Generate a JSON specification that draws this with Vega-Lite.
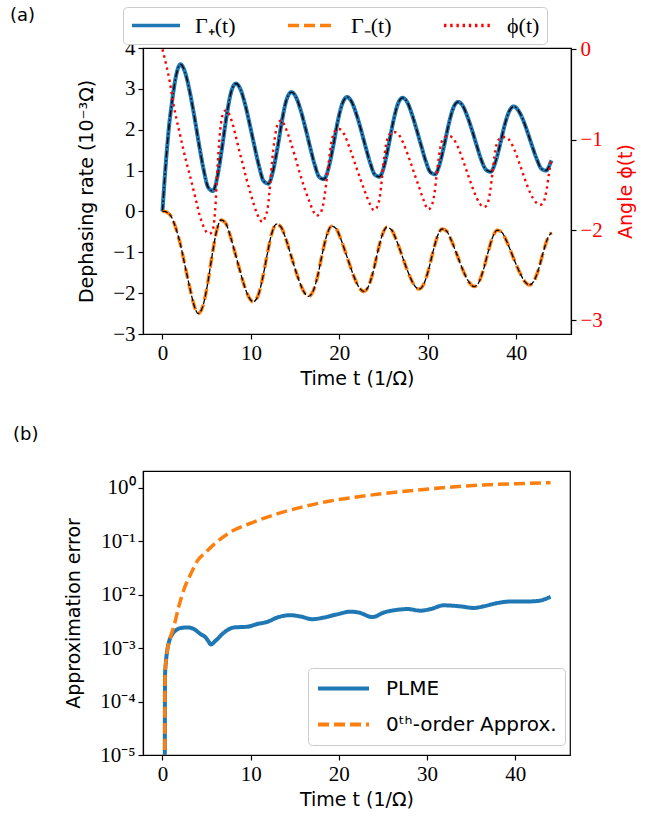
{
  "$schema": "https://vega.github.io/schema/vega-lite/v6.json",
  "padding": {"left": 9, "top": 5, "right": 5, "bottom": 5},
  "background": "white",
  "config": {
    "view": {"stroke": "black", "strokeWidth": 1.2},
    "axis": {"domainColor": "black", "domainWidth": 1.2, "tickColor": "black", "tickSize": 5, "tickWidth": 1.2, "labelColor": "black", "labelFont": "Liberation Serif", "labelFontSize": 21, "titleFont": "DejaVu Sans", "titleFontSize": 19, "titleFontWeight": "normal", "titleColor": "black", "grid": false, "labelFlush": false, "labelOverlap": false},
    "title": {"font": "DejaVu Sans", "fontSize": 18, "fontWeight": "normal", "color": "black"}
  },
  "resolve": {"scale": {"color": "independent", "strokeDash": "independent"}, "legend": {"color": "independent", "strokeDash": "independent"}},
  "datasets": {
    "gp": [
      {"t": 0, "v": 0}, {"t": 0.25, "v": 0.8}, {"t": 0.5, "v": 1.5}, {"t": 0.75, "v": 2.1}, {"t": 1.0, "v": 2.55}, {"t": 1.25, "v": 2.95}, {"t": 1.5, "v": 3.28}, {"t": 1.75, "v": 3.5},
      {"t": 2.03, "v": 3.6}, {"t": 2.55, "v": 3.41}, {"t": 3.08, "v": 2.94}, {"t": 3.6, "v": 2.33}, {"t": 4.12, "v": 1.66}, {"t": 4.65, "v": 1.03}, {"t": 5.17, "v": 0.59}, {"t": 5.7, "v": 0.5}, {"t": 6.22, "v": 0.86}, {"t": 6.74, "v": 1.56}, {"t": 7.27, "v": 2.36}, {"t": 7.79, "v": 2.94},
      {"t": 8.31, "v": 3.13}, {"t": 8.84, "v": 2.98}, {"t": 9.36, "v": 2.61}, {"t": 9.88, "v": 2.12}, {"t": 10.41, "v": 1.59}, {"t": 10.93, "v": 1.1}, {"t": 11.45, "v": 0.74}, {"t": 11.98, "v": 0.68}, {"t": 12.5, "v": 0.99}, {"t": 13.03, "v": 1.58}, {"t": 13.55, "v": 2.26}, {"t": 14.07, "v": 2.76},
      {"t": 14.6, "v": 2.92}, {"t": 15.12, "v": 2.79}, {"t": 15.64, "v": 2.47}, {"t": 16.17, "v": 2.04}, {"t": 16.69, "v": 1.58}, {"t": 17.21, "v": 1.15}, {"t": 17.74, "v": 0.84}, {"t": 18.26, "v": 0.79}, {"t": 18.78, "v": 1.06}, {"t": 19.31, "v": 1.6}, {"t": 19.83, "v": 2.21}, {"t": 20.36, "v": 2.65},
      {"t": 20.88, "v": 2.8}, {"t": 21.4, "v": 2.68}, {"t": 21.93, "v": 2.38}, {"t": 22.45, "v": 2.0}, {"t": 22.97, "v": 1.58}, {"t": 23.5, "v": 1.18}, {"t": 24.02, "v": 0.9}, {"t": 24.54, "v": 0.85}, {"t": 25.07, "v": 1.11}, {"t": 25.59, "v": 1.63}, {"t": 26.11, "v": 2.21}, {"t": 26.64, "v": 2.64},
      {"t": 27.16, "v": 2.78}, {"t": 27.69, "v": 2.67}, {"t": 28.21, "v": 2.38}, {"t": 28.73, "v": 2.01}, {"t": 29.26, "v": 1.61}, {"t": 29.78, "v": 1.23}, {"t": 30.3, "v": 0.96}, {"t": 30.83, "v": 0.91}, {"t": 31.35, "v": 1.16}, {"t": 31.87, "v": 1.63}, {"t": 32.4, "v": 2.16}, {"t": 32.92, "v": 2.55},
      {"t": 33.45, "v": 2.68}, {"t": 33.97, "v": 2.58}, {"t": 34.49, "v": 2.32}, {"t": 35.02, "v": 1.98}, {"t": 35.54, "v": 1.61}, {"t": 36.06, "v": 1.26}, {"t": 36.59, "v": 1.02}, {"t": 37.11, "v": 0.97}, {"t": 37.63, "v": 1.19}, {"t": 38.16, "v": 1.62}, {"t": 38.68, "v": 2.1}, {"t": 39.21, "v": 2.45},
      {"t": 39.73, "v": 2.57}, {"t": 40.25, "v": 2.47}, {"t": 40.78, "v": 2.24}, {"t": 41.3, "v": 1.93}, {"t": 41.82, "v": 1.59}, {"t": 42.35, "v": 1.27}, {"t": 42.87, "v": 1.04}, {"t": 43.39, "v": 1.0}, {"t": 43.92, "v": 1.21}, {"t": 44.0, "v": 1.25}
    ],
    "gm": [
      {"t": 0, "v": 0}, {"t": 0.25, "v": 0}, {"t": 0.5, "v": -0.02}, {"t": 0.75, "v": -0.06}, {"t": 1.0, "v": -0.13}, {"t": 1.25, "v": -0.25}, {"t": 1.5, "v": -0.4}, {"t": 1.75, "v": -0.58}, {"t": 2.0, "v": -0.78}, {"t": 2.25, "v": -1.02}, {"t": 2.5, "v": -1.28}, {"t": 2.75, "v": -1.53}, {"t": 3.0, "v": -1.78}, {"t": 3.25, "v": -2.02}, {"t": 3.5, "v": -2.24}, {"t": 3.75, "v": -2.41},
      {"t": 4.03, "v": -2.5}, {"t": 4.55, "v": -2.33}, {"t": 5.07, "v": -1.82}, {"t": 5.59, "v": -1.11}, {"t": 6.11, "v": -0.49}, {"t": 6.63, "v": -0.21}, {"t": 7.15, "v": -0.29}, {"t": 7.67, "v": -0.6}, {"t": 8.19, "v": -1.0}, {"t": 8.71, "v": -1.41}, {"t": 9.23, "v": -1.8}, {"t": 9.75, "v": -2.09},
      {"t": 10.27, "v": -2.21}, {"t": 10.8, "v": -2.07}, {"t": 11.32, "v": -1.64}, {"t": 11.84, "v": -1.06}, {"t": 12.36, "v": -0.54}, {"t": 12.88, "v": -0.31}, {"t": 13.4, "v": -0.38}, {"t": 13.92, "v": -0.65}, {"t": 14.44, "v": -1.01}, {"t": 14.96, "v": -1.38}, {"t": 15.48, "v": -1.71}, {"t": 16.0, "v": -1.97},
      {"t": 16.52, "v": -2.08}, {"t": 17.04, "v": -1.95}, {"t": 17.56, "v": -1.57}, {"t": 18.08, "v": -1.03}, {"t": 18.6, "v": -0.57}, {"t": 19.12, "v": -0.36}, {"t": 19.64, "v": -0.42}, {"t": 20.16, "v": -0.67}, {"t": 20.68, "v": -0.99}, {"t": 21.2, "v": -1.32}, {"t": 21.72, "v": -1.63}, {"t": 22.24, "v": -1.86},
      {"t": 22.76, "v": -1.96}, {"t": 23.28, "v": -1.84}, {"t": 23.81, "v": -1.49}, {"t": 24.33, "v": -1.0}, {"t": 24.85, "v": -0.58}, {"t": 25.37, "v": -0.39}, {"t": 25.89, "v": -0.45}, {"t": 26.41, "v": -0.68}, {"t": 26.93, "v": -0.98}, {"t": 27.45, "v": -1.3}, {"t": 27.97, "v": -1.59}, {"t": 28.49, "v": -1.81},
      {"t": 29.01, "v": -1.9}, {"t": 29.53, "v": -1.79}, {"t": 30.05, "v": -1.46}, {"t": 30.57, "v": -1.01}, {"t": 31.09, "v": -0.61}, {"t": 31.61, "v": -0.43}, {"t": 32.13, "v": -0.48}, {"t": 32.65, "v": -0.7}, {"t": 33.17, "v": -0.98}, {"t": 33.69, "v": -1.28}, {"t": 34.21, "v": -1.55}, {"t": 34.73, "v": -1.75},
      {"t": 35.25, "v": -1.84}, {"t": 35.77, "v": -1.74}, {"t": 36.29, "v": -1.43}, {"t": 36.82, "v": -1.0}, {"t": 37.34, "v": -0.63}, {"t": 37.86, "v": -0.46}, {"t": 38.38, "v": -0.51}, {"t": 38.9, "v": -0.72}, {"t": 39.42, "v": -0.99}, {"t": 39.94, "v": -1.27}, {"t": 40.46, "v": -1.52}, {"t": 40.98, "v": -1.72},
      {"t": 41.5, "v": -1.8}, {"t": 42.02, "v": -1.7}, {"t": 42.54, "v": -1.41}, {"t": 43.06, "v": -1.0}, {"t": 43.58, "v": -0.65}, {"t": 44.0, "v": -0.52}
    ],
    "phi": [
      {"t": 0, "p": 0}, {"t": 0.45, "p": -0.18}, {"t": 0.83, "p": -0.36}, {"t": 1.2, "p": -0.58}, {"t": 1.58, "p": -0.77}, {"t": 1.96, "p": -0.93}, {"t": 2.34, "p": -1.1}, {"t": 2.71, "p": -1.25}, {"t": 3.09, "p": -1.39}, {"t": 3.47, "p": -1.54}, {"t": 3.84, "p": -1.69}, {"t": 4.22, "p": -1.84}, {"t": 4.6, "p": -1.95}, {"t": 4.97, "p": -2.02}, {"t": 5.3, "p": -2.04}, {"t": 5.6, "p": -2.02},
      {"t": 5.85, "p": -1.9}, {"t": 6.02, "p": -1.69}, {"t": 6.18, "p": -1.39}, {"t": 6.33, "p": -1.14}, {"t": 6.55, "p": -0.88}, {"t": 6.86, "p": -0.71}, {"t": 7.16, "p": -0.675}, {"t": 7.6, "p": -0.73}, {"t": 7.98, "p": -0.84}, {"t": 8.36, "p": -0.99}, {"t": 8.73, "p": -1.14}, {"t": 9.11, "p": -1.28}, {"t": 9.49, "p": -1.43}, {"t": 9.87, "p": -1.56}, {"t": 10.25, "p": -1.69}, {"t": 10.62, "p": -1.8}, {"t": 11.0, "p": -1.88}, {"t": 11.3, "p": -1.91},
      {"t": 11.6, "p": -1.86}, {"t": 11.94, "p": -1.73}, {"t": 12.2, "p": -1.47}, {"t": 12.43, "p": -1.21}, {"t": 12.69, "p": -0.99}, {"t": 13.07, "p": -0.82}, {"t": 13.45, "p": -0.785}, {"t": 13.8, "p": -0.84}, {"t": 14.38, "p": -0.99}, {"t": 14.95, "p": -1.17}, {"t": 15.5, "p": -1.36}, {"t": 16.08, "p": -1.54}, {"t": 16.64, "p": -1.69}, {"t": 17.0, "p": -1.78}, {"t": 17.4, "p": -1.84},
      {"t": 17.8, "p": -1.82}, {"t": 18.15, "p": -1.73}, {"t": 18.5, "p": -1.5}, {"t": 18.8, "p": -1.25}, {"t": 19.1, "p": -1.03}, {"t": 19.47, "p": -0.91}, {"t": 19.85, "p": -0.88}, {"t": 20.2, "p": -0.89}, {"t": 20.6, "p": -0.95}, {"t": 21.2, "p": -1.1}, {"t": 21.8, "p": -1.27}, {"t": 22.4, "p": -1.44}, {"t": 23.0, "p": -1.6}, {"t": 23.5, "p": -1.72}, {"t": 23.9, "p": -1.78},
      {"t": 24.25, "p": -1.75}, {"t": 24.6, "p": -1.62}, {"t": 24.85, "p": -1.4}, {"t": 25.1, "p": -1.18}, {"t": 25.4, "p": -1.0}, {"t": 25.8, "p": -0.93}, {"t": 26.2, "p": -0.915}, {"t": 26.6, "p": -0.93}, {"t": 27.2, "p": -1.03}, {"t": 27.8, "p": -1.18}, {"t": 28.4, "p": -1.35}, {"t": 29.0, "p": -1.52}, {"t": 29.5, "p": -1.66}, {"t": 30.05, "p": -1.77},
      {"t": 30.4, "p": -1.74}, {"t": 30.75, "p": -1.6}, {"t": 31.0, "p": -1.4}, {"t": 31.25, "p": -1.2}, {"t": 31.55, "p": -1.03}, {"t": 31.95, "p": -0.97}, {"t": 32.45, "p": -0.96}, {"t": 32.9, "p": -0.99}, {"t": 33.5, "p": -1.1}, {"t": 34.1, "p": -1.26}, {"t": 34.7, "p": -1.43}, {"t": 35.3, "p": -1.59}, {"t": 35.9, "p": -1.71}, {"t": 36.35, "p": -1.745},
      {"t": 36.7, "p": -1.72}, {"t": 37.05, "p": -1.58}, {"t": 37.3, "p": -1.38}, {"t": 37.55, "p": -1.18}, {"t": 37.85, "p": -1.03}, {"t": 38.25, "p": -0.98}, {"t": 38.75, "p": -0.97}, {"t": 39.2, "p": -1.0}, {"t": 39.8, "p": -1.11}, {"t": 40.4, "p": -1.27}, {"t": 41.0, "p": -1.44}, {"t": 41.6, "p": -1.59}, {"t": 42.2, "p": -1.69}, {"t": 42.75, "p": -1.72},
      {"t": 43.1, "p": -1.69}, {"t": 43.45, "p": -1.55}, {"t": 43.7, "p": -1.38}, {"t": 44.0, "p": -1.2}
    ],
    "plme": [
      {"t": 0.25, "e": 1e-7}, {"t": 0.3, "e": 0.000316}, {"t": 0.4, "e": 0.00056}, {"t": 0.57, "e": 0.00095}, {"t": 0.8, "e": 0.0014}, {"t": 1.1, "e": 0.0018}, {"t": 1.7, "e": 0.00224}, {"t": 2.3, "e": 0.0024}, {"t": 2.9, "e": 0.00243}, {"t": 3.5, "e": 0.0023}, {"t": 4.34, "e": 0.00182}, {"t": 4.9, "e": 0.00158}, {"t": 5.2, "e": 0.00135}, {"t": 5.5, "e": 0.00117}, {"t": 6.04, "e": 0.00138}, {"t": 6.98, "e": 0.00195}, {"t": 8.11, "e": 0.00243}, {"t": 9.63, "e": 0.00251}, {"t": 10.76, "e": 0.00282}, {"t": 11.89, "e": 0.00309}, {"t": 13.0, "e": 0.00372}, {"t": 14.5, "e": 0.00412}, {"t": 15.66, "e": 0.00389}, {"t": 17.0, "e": 0.00347}, {"t": 18.3, "e": 0.00372}, {"t": 19.8, "e": 0.00427}, {"t": 21.3, "e": 0.00479}, {"t": 22.3, "e": 0.0046}, {"t": 23.8, "e": 0.0038}, {"t": 25.1, "e": 0.00462}, {"t": 26.6, "e": 0.00519}, {"t": 27.8, "e": 0.00537}, {"t": 29.25, "e": 0.005}, {"t": 30.4, "e": 0.00537}, {"t": 31.9, "e": 0.0063}, {"t": 33.75, "e": 0.00603}, {"t": 35.3, "e": 0.00562}, {"t": 36.4, "e": 0.00603}, {"t": 37.9, "e": 0.00692}, {"t": 39.4, "e": 0.00741}, {"t": 40.9, "e": 0.00741}, {"t": 42.5, "e": 0.00759}, {"t": 44.0, "e": 0.0091}
    ],
    "zero": [
      {"t": 0.25, "e": 1e-7}, {"t": 0.3, "e": 0.000316}, {"t": 0.4, "e": 0.00056}, {"t": 0.57, "e": 0.00095}, {"t": 0.9, "e": 0.00158}, {"t": 1.32, "e": 0.00263}, {"t": 1.88, "e": 0.00617}, {"t": 2.45, "e": 0.0126}, {"t": 3.2, "e": 0.024}, {"t": 3.96, "e": 0.0427}, {"t": 4.9, "e": 0.0617}, {"t": 5.85, "e": 0.0871}, {"t": 7.73, "e": 0.148}, {"t": 10.4, "e": 0.229}, {"t": 13.0, "e": 0.324}, {"t": 15.66, "e": 0.427}, {"t": 18.7, "e": 0.55}, {"t": 21.3, "e": 0.646}, {"t": 25.1, "e": 0.776}, {"t": 28.9, "e": 0.902}, {"t": 32.6, "e": 1.023}, {"t": 36.4, "e": 1.122}, {"t": 40.2, "e": 1.189}, {"t": 44.0, "e": 1.239}
    ]
  },
  "spacing": 36,
  "vconcat": [
    {
      "width": 428,
      "height": 286,
      "title": {"text": "(a)", "anchor": "start", "frame": "group", "dx": -133, "dy": 22},
      "layer": [
        {
          "layer": [
            {
              "data": {"name": "gp"},
              "mark": {"type": "line", "interpolate": "monotone", "strokeWidth": 4, "clip": true},
              "encoding": {
                "x": {"field": "t", "type": "quantitative", "scale": {"domain": [-2.2, 46.2], "nice": false, "zero": false}, "axis": {"values": [0, 10, 20, 30, 40], "title": "Time t (1/Ω)", "labelPadding": 3, "titlePadding": 6}},
                "y": {"field": "v", "type": "quantitative", "scale": {"domain": [-3, 4], "nice": false, "zero": false}, "axis": {"values": [-3, -2, -1, 0, 1, 2, 3, 4], "title": "Dephasing rate (10⁻³Ω)", "labelPadding": 3, "titlePadding": 16}},
                "color": {"datum": "Γ₊(t)", "type": "nominal", "scale": {"domain": ["Γ₊(t)", "Γ₋(t)", "ϕ(t)"], "range": ["#1f77b4", "#ff7f0e", "#ff0000"]},
                  "legend": {"orient": "none", "legendX": -20, "legendY": -41, "direction": "horizontal", "title": null, "fillColor": "white", "strokeColor": "#cccccc", "cornerRadius": 4, "padding": 7, "symbolType": "stroke", "symbolSize": 2300, "symbolStrokeWidth": 3.5, "clipHeight": 23, "labelFont": "Liberation Serif", "labelFontSize": 22, "labelOffset": 13, "columnPadding": 50, "labelLimit": 200}},
                "strokeDash": {"datum": "Γ₊(t)", "type": "nominal", "scale": {"domain": ["Γ₊(t)", "Γ₋(t)", "ϕ(t)"], "range": [[1, 0], [11, 5], [2.4, 3.8]]}}
              }
            },
            {
              "data": {"name": "gp"},
              "mark": {"type": "line", "interpolate": "monotone", "strokeWidth": 1.4, "color": "black", "strokeDash": [7, 2.5, 1.5, 2.5], "clip": true},
              "encoding": {"x": {"field": "t", "type": "quantitative"}, "y": {"field": "v", "type": "quantitative"}}
            },
            {
              "data": {"name": "gm"},
              "mark": {"type": "line", "interpolate": "monotone", "strokeWidth": 3.5, "clip": true},
              "encoding": {
                "x": {"field": "t", "type": "quantitative"},
                "y": {"field": "v", "type": "quantitative"},
                "color": {"datum": "Γ₋(t)", "type": "nominal"},
                "strokeDash": {"datum": "Γ₋(t)", "type": "nominal"}
              }
            },
            {
              "data": {"name": "gm"},
              "mark": {"type": "line", "interpolate": "monotone", "strokeWidth": 1.3, "color": "black", "strokeDash": [5.5, 2.2], "clip": true},
              "encoding": {"x": {"field": "t", "type": "quantitative"}, "y": {"field": "v", "type": "quantitative"}}
            }
          ]
        },
        {
          "data": {"name": "phi"},
          "mark": {"type": "line", "interpolate": "monotone", "strokeWidth": 2.4, "clip": true},
          "encoding": {
            "x": {"field": "t", "type": "quantitative"},
            "y": {"field": "p", "type": "quantitative", "scale": {"domain": [-3.15, 0.015], "nice": false, "zero": false},
              "axis": {"orient": "right", "values": [0, -1, -2, -3], "title": "Angle ϕ(t)", "titleAngle": -90, "titleBaseline": "top", "labelColor": "#ff0000", "titleColor": "#ff0000", "labelPadding": 4, "titlePadding": 14}},
            "color": {"datum": "ϕ(t)", "type": "nominal"},
            "strokeDash": {"datum": "ϕ(t)", "type": "nominal"}
          }
        }
      ],
      "resolve": {"scale": {"y": "independent"}}
    },
    {
      "width": 427,
      "height": 284,
      "title": {"text": "(b)", "anchor": "start", "frame": "group", "dx": -130, "dy": -23},
      "layer": [
        {
          "data": {"name": "plme"},
          "mark": {"type": "line", "interpolate": "monotone", "strokeWidth": 4, "clip": true},
          "encoding": {
            "x": {"field": "t", "type": "quantitative", "scale": {"domain": [-2.2, 46.2], "nice": false, "zero": false}, "axis": {"values": [0, 10, 20, 30, 40], "title": "Time t (1/Ω)", "labelPadding": 3, "titlePadding": 6}},
            "y": {"field": "e", "type": "quantitative", "scale": {"type": "log", "domain": [0.00001, 2.05], "nice": false},
              "axis": {"values": [0.00001, 0.0001, 0.001, 0.01, 0.1, 1], "title": "Approximation error", "labelPadding": 3, "titlePadding": 16,
                "labelExpr": "datum.value > 0.5 ? '10⁰' : datum.value > 0.05 ? '10⁻¹' : datum.value > 0.005 ? '10⁻²' : datum.value > 0.0005 ? '10⁻³' : datum.value > 0.00005 ? '10⁻⁴' : '10⁻⁵'"}},
            "color": {"datum": "PLME", "type": "nominal", "scale": {"domain": ["PLME", "0ᵗʰ-order Approx."], "range": ["#1f77b4", "#ff7f0e"]},
              "legend": {"orient": "none", "legendX": 165, "legendY": 197, "direction": "vertical", "title": null, "fillColor": "white", "strokeColor": "#cccccc", "cornerRadius": 4, "padding": 8, "symbolType": "stroke", "symbolSize": 2600, "symbolStrokeWidth": 4, "clipHeight": 25, "labelFont": "DejaVu Sans", "labelFontSize": 20, "labelOffset": 15, "rowPadding": 11, "labelLimit": 300}},
            "strokeDash": {"datum": "PLME", "type": "nominal", "scale": {"domain": ["PLME", "0ᵗʰ-order Approx."], "range": [[1, 0], [11, 5]]}}
          }
        },
        {
          "data": {"name": "zero"},
          "mark": {"type": "line", "interpolate": "monotone", "strokeWidth": 3.5, "clip": true},
          "encoding": {
            "x": {"field": "t", "type": "quantitative"},
            "y": {"field": "e", "type": "quantitative"},
            "color": {"datum": "0ᵗʰ-order Approx.", "type": "nominal"},
            "strokeDash": {"datum": "0ᵗʰ-order Approx.", "type": "nominal"}
          }
        }
      ]
    }
  ]
}
